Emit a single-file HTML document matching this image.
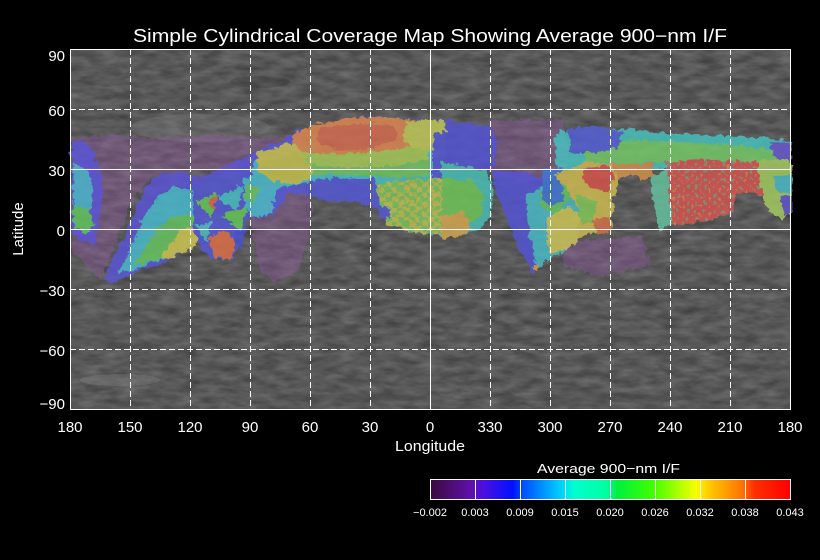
<!DOCTYPE html>
<html><head><meta charset="utf-8"><style>
html,body{margin:0;padding:0;background:#000;}
svg{display:block;}
text{font-family:"Liberation Sans",sans-serif;fill:#fff;}
</style></head><body>
<svg width="820" height="560" viewBox="0 0 820 560" xmlns="http://www.w3.org/2000/svg">
<defs>
<filter id="tex" filterUnits="userSpaceOnUse" x="70" y="49" width="720" height="360" color-interpolation-filters="sRGB">
<feTurbulence type="fractalNoise" baseFrequency="0.05 0.14" numOctaves="3" seed="7" result="n"/>
<feColorMatrix in="n" type="matrix" values="0.22 0 0 0 0.235  0.22 0 0 0 0.235  0.22 0 0 0 0.235  0 0 0 0 1"/>
</filter>
<filter id="rough" x="-5%" y="-5%" width="110%" height="110%" color-interpolation-filters="sRGB">
<feTurbulence type="turbulence" baseFrequency="0.12" numOctaves="2" seed="4" result="t"/>
<feDisplacementMap in="SourceGraphic" in2="t" scale="7" xChannelSelector="R" yChannelSelector="G"/>
</filter>
<pattern id="speck" width="9" height="8" patternUnits="userSpaceOnUse">
<rect x="0" y="0" width="3" height="3" fill="#58c890"/>
<rect x="5" y="4" width="2" height="2" fill="#c8b850"/>
</pattern>
<pattern id="check" width="12" height="10" patternUnits="userSpaceOnUse">
<rect x="0" y="0" width="12" height="10" fill="#78c860"/>
<rect x="0" y="0" width="6" height="5" fill="#c8c050"/>
<rect x="6" y="5" width="6" height="5" fill="#c8c050"/>
</pattern>
<linearGradient id="cb" x1="430" y1="0" x2="790" y2="0" gradientUnits="userSpaceOnUse">
<stop offset="0" stop-color="#3a0a3c"/>
<stop offset="0.12" stop-color="#6010b0"/>
<stop offset="0.15" stop-color="#4a10e0"/>
<stop offset="0.23" stop-color="#0010ff"/>
<stop offset="0.26" stop-color="#0050ff"/>
<stop offset="0.37" stop-color="#00d8ff"/>
<stop offset="0.40" stop-color="#00ffd0"/>
<stop offset="0.49" stop-color="#00ffa0"/>
<stop offset="0.52" stop-color="#00f040"/>
<stop offset="0.62" stop-color="#40ff00"/>
<stop offset="0.74" stop-color="#f8ff00"/>
<stop offset="0.77" stop-color="#ffd000"/>
<stop offset="0.87" stop-color="#ff7000"/>
<stop offset="0.90" stop-color="#ff3000"/>
<stop offset="1" stop-color="#ff0000"/>
</linearGradient>
</defs>

<!-- Title -->
<text x="133" y="42" font-size="18" textLength="594" lengthAdjust="spacingAndGlyphs">Simple Cylindrical Coverage Map Showing Average 900−nm I/F</text>

<!-- Map base -->
<rect x="70" y="49" width="720" height="360" fill="#5a5a5a"/>
<rect x="70" y="49" width="720" height="360" filter="url(#tex)"/>
<g opacity="0.25">
<ellipse cx="200" cy="128" rx="70" ry="14" fill="#8a8a8a"/>
<ellipse cx="260" cy="82" rx="30" ry="6" fill="#2a2a2a"/>
<ellipse cx="120" cy="380" rx="40" ry="6" fill="#9a9a9a"/>
<ellipse cx="350" cy="398" rx="80" ry="4" fill="#404040"/>
<ellipse cx="600" cy="398" rx="100" ry="4" fill="#424242"/>
</g>

<!-- Purple tints -->
<g fill="#9a5ab0" opacity="0.35" filter="url(#rough)">
<polygon points="70,137 110,133 160,137 210,133 260,137 300,133 300,150 260,160 220,170 180,170 150,175 130,200 115,240 105,262 98,278 84,262 70,250"/>
<polygon points="250,182 300,186 312,200 306,240 296,270 272,282 256,262 250,220"/>
<polygon points="488,118 560,118 568,160 548,178 520,180 490,176"/>
<polygon points="560,240 640,235 650,262 600,275 562,265"/>
</g>

<!-- Colored coverage -->
<g opacity="0.82" filter="url(#rough)">
<polygon fill="#5a54d8" points="70,140 82,138 92,150 100,175 100,200 97,225 92,245 82,240 70,232"/>
<polygon fill="#48b8d0" points="71,160 85,168 92,190 88,212 80,228 72,224"/>
<polygon fill="#5cc858" points="71,204 88,208 93,224 84,232 74,228"/>

<polygon fill="#5a54d8" points="103,278 108,262 118,245 126,228 132,212 140,195 150,178 160,172 180,170 200,175 215,168 235,160 252,150 258,160 250,180 240,200 225,215 205,228 195,240 185,250 165,260 145,266 125,274 110,281"/>
<polygon fill="#48bcd0" points="115,272 125,252 135,232 145,210 155,195 170,186 190,188 205,184 215,198 205,220 192,234 178,247 158,258 132,268"/>
<polygon fill="#66c860" points="132,264 140,250 150,235 160,222 175,214 190,214 196,230 186,243 170,252 150,260"/>
<polygon fill="#d0c850" points="160,255 170,240 180,228 194,224 197,240 186,250 170,256"/>

<polygon fill="#5458d8" points="190,185 215,175 240,168 256,163 258,185 252,205 245,225 236,245 230,258 215,258 200,250 192,230"/>
<polygon fill="#66c858" points="195,200 215,190 210,216"/>
<polygon fill="#48c0c8" points="215,195 242,184 235,210"/>
<polygon fill="#66c858" points="220,215 246,204 240,230"/>
<polygon fill="#48c0c8" points="194,224 211,219 205,241"/>
<polygon fill="#d86a50" points="205,200 216,194 212,208"/>
<polygon fill="#e07048" points="207,236 222,228 236,240 228,258 212,256"/>
<polygon fill="#4850d8" points="230,232 245,226 238,248"/>

<polygon fill="#5458d8" points="250,152 265,145 285,138 295,128 320,122 345,118 370,114 395,116 420,118 450,119 450,236 425,233 405,229 385,222 372,205 350,200 330,199 310,195 290,190 270,214 248,216 244,190"/>
<polygon fill="#48c0c8" points="252,160 275,148 295,140 330,135 380,140 430,140 430,182 380,182 350,178 320,178 300,182 280,186 262,188 248,182"/>
<polygon fill="#70c860" points="262,158 290,146 330,143 380,144 428,140 428,174 400,176 370,174 330,172 300,174 275,176"/>
<polygon fill="#c8c450" points="256,150 290,142 312,150 310,175 295,182 270,180 255,168"/>
<polygon fill="#a8cc58" points="300,148 345,148 390,144 428,136 428,158 390,164 345,166 305,162"/>
<polygon fill="#e08850" points="292,132 308,124 340,118 370,115 395,116 420,119 428,126 420,140 400,146 370,150 340,152 315,152 298,148 290,140"/>
<polygon fill="#d86c50" points="318,127 360,121 392,124 396,136 375,146 340,149 315,142"/>
<polygon fill="#c4cc58" points="405,120 430,118 450,122 448,140 432,148 412,146 400,138"/>
<polygon fill="#5458d8" points="432,132 450,130 450,172 432,170"/>
<polygon fill="#5458d8" points="330,176 372,176 374,198 350,200 332,196"/>
<polygon fill="#48bcd0" points="242,175 262,178 276,186 270,212 250,216 242,200"/>
<polygon fill="#66c860" points="244,182 258,186 252,200 242,196"/>
<polygon fill="url(#check)" points="374,182 400,178 445,178 445,234 425,233 405,229 386,224 378,205"/>
<polygon fill="#5458d8" points="374,205 386,204 388,216 378,216"/>

<polygon fill="#5454d8" points="445,120 465,121 490,125 496,140 493,165 482,176 465,170 450,166 445,162"/>
<polygon fill="#48c0b8" points="440,160 460,164 486,170 491,186 489,214 478,226 460,234 440,234"/>
<polygon fill="#70c858" points="440,176 470,180 483,195 479,215 460,225 440,224"/>
<polygon fill="#d8a850" points="440,214 460,210 470,224 460,236 440,237"/>

<polygon fill="#5454d8" points="490,168 520,170 545,178 553,188 542,220 536,258 531,273 522,256 510,230 500,205 492,185"/>
<polygon fill="#48bcc8" points="524,196 553,176 566,168 576,184 578,210 575,236 564,248 548,258 535,268 531,248 527,224"/>
<polygon fill="#66c860" points="538,190 560,180 571,195 556,212 540,206"/>
<polygon fill="#d0c858" points="544,216 566,204 578,214 576,240 560,249 547,252"/>
<polygon fill="#e0a048" points="529,265 537,262 534,272"/>

<polygon fill="#48c4c0" points="553,132 580,126 600,130 620,127 660,131 700,133 740,135 760,136 780,138 790,140 790,172 760,168 720,166 680,164 650,168 620,168 590,168 570,172 555,174"/>
<polygon fill="#74cc68" points="580,140 620,138 680,140 740,144 775,150 775,165 740,162 680,160 620,162 585,160"/>
<polygon fill="#5460d8" points="566,128 590,124 622,130 616,146 590,152 570,150"/>
<polygon fill="#6858d0" points="768,140 790,142 790,168 776,162"/>
<polygon fill="#4078d8" points="540,168 560,166 562,200 548,204 540,198"/>

<polygon fill="#d0bc50" points="553,172 585,160 613,163 620,174 612,195 610,230 598,230 585,232 576,238 578,210 564,186"/>
<polygon fill="#d85448" points="582,166 606,163 613,175 606,190 592,186 580,178"/>
<polygon fill="#84c858" points="574,194 596,199 592,220 579,222"/>
<polygon fill="#d87248" points="590,218 608,214 610,230 596,232"/>
<polygon fill="#d89048" points="610,162 652,162 654,174 640,178 628,172 616,178"/>

<polygon fill="#64c4a0" points="648,176 670,166 674,200 670,222 657,230 653,210 650,190"/>

<polygon fill="#d85450" points="665,160 700,158 740,160 760,160 766,180 760,194 748,190 735,192 730,210 716,216 702,220 682,222 671,223 668,200"/>
<polygon fill="url(#speck)" opacity="0.55" points="665,160 700,158 740,160 760,160 766,180 760,194 748,190 735,192 730,210 716,216 702,220 682,222 671,223 668,200"/>

<polygon fill="#a4cc60" points="756,158 790,158 790,210 781,218 771,212 762,200 758,180"/>
<polygon fill="#48bcc8" points="770,175 790,172 790,192 776,190"/>
<polygon fill="#6054d0" points="778,195 790,194 790,210 782,214"/>
</g>

<!-- Grid -->
<g stroke="#fff" stroke-width="1" fill="none" shape-rendering="crispEdges">
<g stroke-dasharray="6,3">
<line x1="130.5" y1="49" x2="130.5" y2="409"/>
<line x1="190.5" y1="49" x2="190.5" y2="409"/>
<line x1="250.5" y1="49" x2="250.5" y2="409"/>
<line x1="310.5" y1="49" x2="310.5" y2="409"/>
<line x1="370.5" y1="49" x2="370.5" y2="409"/>
<line x1="490.5" y1="49" x2="490.5" y2="409"/>
<line x1="550.5" y1="49" x2="550.5" y2="409"/>
<line x1="610.5" y1="49" x2="610.5" y2="409"/>
<line x1="670.5" y1="49" x2="670.5" y2="409"/>
<line x1="730.5" y1="49" x2="730.5" y2="409"/>
<line x1="70" y1="109.5" x2="790" y2="109.5"/>
<line x1="70" y1="289.5" x2="790" y2="289.5"/>
<line x1="70" y1="349.5" x2="790" y2="349.5"/>
</g>
<line x1="430.5" y1="49" x2="430.5" y2="409"/>
<line x1="70" y1="169.5" x2="790" y2="169.5"/>
<line x1="70" y1="229.5" x2="790" y2="229.5"/>
<rect x="70.5" y="49.5" width="720" height="360"/>
</g>

<!-- Y tick labels -->
<g font-size="15" text-anchor="end">
<text x="65" y="61">90</text>
<text x="65" y="116">60</text>
<text x="65" y="176">30</text>
<text x="65" y="236">0</text>
<text x="65" y="296">−30</text>
<text x="65" y="356">−60</text>
<text x="65" y="409">−90</text>
</g>
<text transform="translate(23,229) rotate(-90)" font-size="15" text-anchor="middle">Latitude</text>

<!-- X tick labels -->
<g font-size="15" text-anchor="middle">
<text x="70" y="432">180</text>
<text x="130" y="432">150</text>
<text x="190" y="432">120</text>
<text x="250" y="432">90</text>
<text x="310" y="432">60</text>
<text x="370" y="432">30</text>
<text x="430" y="432">0</text>
<text x="490" y="432">330</text>
<text x="550" y="432">300</text>
<text x="610" y="432">270</text>
<text x="670" y="432">240</text>
<text x="730" y="432">210</text>
<text x="790" y="432">180</text>
</g>
<text x="395" y="451" font-size="15" textLength="70" lengthAdjust="spacingAndGlyphs">Longitude</text>

<!-- Colorbar -->
<text x="537" y="473" font-size="13" textLength="143" lengthAdjust="spacingAndGlyphs">Average 900−nm I/F</text>
<rect x="430" y="479" width="360" height="20" fill="url(#cb)"/>
<g stroke="#fff" stroke-width="1" shape-rendering="crispEdges" fill="none">
<rect x="430.5" y="479.5" width="360" height="20"/>
<line x1="475.5" y1="479" x2="475.5" y2="499"/>
<line x1="520.5" y1="479" x2="520.5" y2="499"/>
<line x1="565.5" y1="479" x2="565.5" y2="499"/>
<line x1="610.5" y1="479" x2="610.5" y2="499"/>
<line x1="655.5" y1="479" x2="655.5" y2="499"/>
<line x1="700.5" y1="479" x2="700.5" y2="499"/>
<line x1="745.5" y1="479" x2="745.5" y2="499"/>
</g>
<g font-size="11" text-anchor="middle">
<text x="430" y="516">−0.002</text>
<text x="475" y="516">0.003</text>
<text x="520" y="516">0.009</text>
<text x="565" y="516">0.015</text>
<text x="610" y="516">0.020</text>
<text x="655" y="516">0.026</text>
<text x="700" y="516">0.032</text>
<text x="745" y="516">0.038</text>
<text x="790" y="516">0.043</text>
</g>
</svg>
</body></html>
